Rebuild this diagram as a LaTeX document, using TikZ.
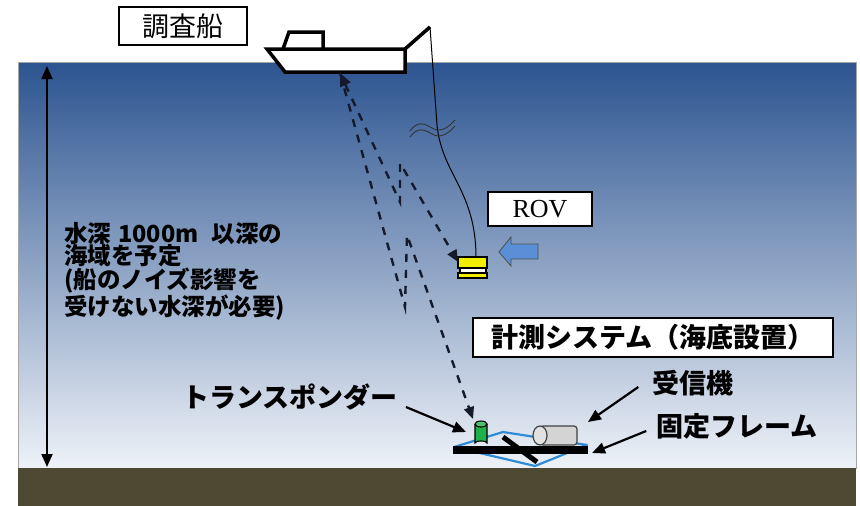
\documentclass[tikz,border=0pt]{standalone}
\usepackage{fontspec}
\usepackage{tikz}
\usetikzlibrary{arrows.meta,calc}
\newfontfamily\jp{Noto Sans CJK JP}
\newfontfamily\rovfont{Liberation Serif}
\definecolor{seatop}{HTML}{2C5490}
\definecolor{seamid}{HTML}{B8C5DF}
\definecolor{seabot}{HTML}{EEF2F8}
\definecolor{seabed}{HTML}{4E4933}
\definecolor{signalnavy}{HTML}{141A2C}
\definecolor{frameblue}{HTML}{2F8BD6}
\definecolor{tpgreen}{HTML}{22B04A}
\definecolor{rovyellow}{HTML}{F2EE00}
\definecolor{pushblue}{HTML}{5A8FD8}
\definecolor{rxgrey}{HTML}{D4D4D4}

\begin{document}
\begin{tikzpicture}[x=1pt,y=-1pt,
  shipline/.style={line width=3.5pt,line join=miter,draw=black,fill=white},
  signal/.style={signalnavy,line width=2.4pt,dash pattern=on 8pt off 8pt},
  labelbox/.style={draw=black,line width=1.2pt,fill=white,inner sep=0},
  callout/.style={-{Triangle[length=13pt,width=11pt]},line width=2.2pt,black},
  jplabel/.style={font=\jp\bfseries\fontsize{27}{30}\selectfont,inner sep=0}]
  \useasboundingbox (0,0) rectangle (860,506);
  % sea and seabed
  \shade[top color=seatop,middle color=seamid,bottom color=seabot] (18,62) rectangle (856,468);
  \draw[black!35,line width=0.8pt] (18,62) rectangle (856,468);
  \fill[seabed] (18,468) rectangle (856,506);

  % depth arrow
  \coordinate (surf) at (47,66);
  \coordinate (bed) at (47,467);
  \draw[{Triangle[length=13pt,width=11pt]}-{Triangle[length=13pt,width=11pt]},line width=1.8pt] (surf) -- (bed);
  \node[anchor=north west,inner sep=0,align=left,
        font=\jp\bfseries\fontsize{23.5}{22.4}\selectfont] (depthnote) at (64,222)
    {水深\hspace{7pt}1000m\hspace{13pt}以深の\\海域を予定\\(船のノイズ影響を\\受けない水深が必要)};

  % survey ship
  \draw[shipline] (283,49) -- (289,32) -- (323,32) -- (323,49);
  \draw[shipline] (267,49) -- (405,49) -- (405,72) -- (285,72) -- cycle;
  \draw[line width=3.5pt] (405,49) -- (430,27);
  \node[labelbox,minimum width=128pt,minimum height=38pt,
        font=\jp\fontsize{27}{30}\selectfont] (shiplabel) at (183,26) {調査船};

  % tether with break mark
  \draw[line width=1pt] (430,27) -- (437,125) .. controls (442,175) and (476,190) .. (476,258);
  \foreach \dy in {0,6}{
    \draw[line width=0.9pt,black!80] (410,131+\dy) .. controls (418,120+\dy) and (425,124+\dy) .. (432,128+\dy)
      .. controls (440,133+\dy) and (448,128+\dy) .. (455,120+\dy);
  }

  % ROV
  \draw[fill=rovyellow,line width=1.2pt] (458,257) rectangle (487,268);
  \draw[fill=white,line width=1.2pt] (460,268) rectangle (486,273);
  \draw[fill=rovyellow,line width=1.2pt] (458,273) rectangle (487,278);
  \node[labelbox,minimum width=104pt,minimum height=34pt,
        font=\rovfont\fontsize{26}{28}\selectfont] (rovlabel) at (540,209) {ROV};
  \fill[pushblue,draw=black!70,line width=0.8pt] (499,252) -- (511,237) -- (511,244) -- (538,244)
    -- (538,259) -- (511,259) -- (511,266) -- cycle;

  % seabed frame, transponder and receiver
  \draw[frameblue,line width=2.2pt,line join=round] (454,447) -- (503,432) -- (587,445) -- (535,466) -- cycle;
  \fill[black] (453,446) rectangle (588,454);
  \draw[line width=5pt] (503,437) -- (537,462);
  \draw[fill=rxgrey,draw=black!75,line width=1.2pt,rounded corners=3pt] (540,426) rectangle (577,445);
  \draw[fill=rxgrey!70,draw=black!75,line width=1.2pt] (540,435.5) ellipse [x radius=7,y radius=9.5];
  \draw[fill=tpgreen,line width=1.1pt] (475,424) -- (475,443) arc[start angle=180,end angle=360,x radius=6,y radius=2]
    -- (487,424);
  \draw[fill=tpgreen!80,line width=1.1pt] (481,424) ellipse [x radius=6,y radius=3];

  % acoustic paths
  \coordinate (sonar) at (340,73);
  \coordinate (rov) at (458,262);
  \coordinate (tp) at (473,419);
  \coordinate (k1) at (400,202);
  \coordinate (k2) at (400,163);
  \coordinate (k3) at (405,307);
  \coordinate (k4) at (407,235);
  \draw[signal,{Triangle[length=13pt,width=11pt]}-{Triangle[length=12pt,width=10pt]}] (sonar) -- (k1) -- (k2) -- (rov);
  \draw[signal,-{Triangle[length=12pt,width=10pt]}] (sonar) -- (k3) -- (k4) -- (tp);

  % labels
  \node[labelbox,minimum width=360pt,minimum height=39pt,
        font=\jp\bfseries\fontsize{27}{30}\selectfont] (syslabel) at (653,337.5) {計測システム（海底設置）};
  \node[jplabel] (tplabel) at (290,397) {トランスポンダー};
  \node[jplabel] (rxlabel) at (693,383) {受信機};
  \node[jplabel] (framelabel) at (737,426) {固定フレーム};
  \coordinate (tpside) at (466,432);
  \coordinate (rxtop) at (588,422);
  \coordinate (frameend) at (592,453);
  \draw[callout] ($(tplabel.east)+(8,10)$) -- (tpside);
  \draw[callout] ($(rxlabel.west)+(-14,4)$) -- (rxtop);
  \draw[callout] ($(framelabel.west)+(-10,5)$) -- (frameend);
\end{tikzpicture}
\end{document}
